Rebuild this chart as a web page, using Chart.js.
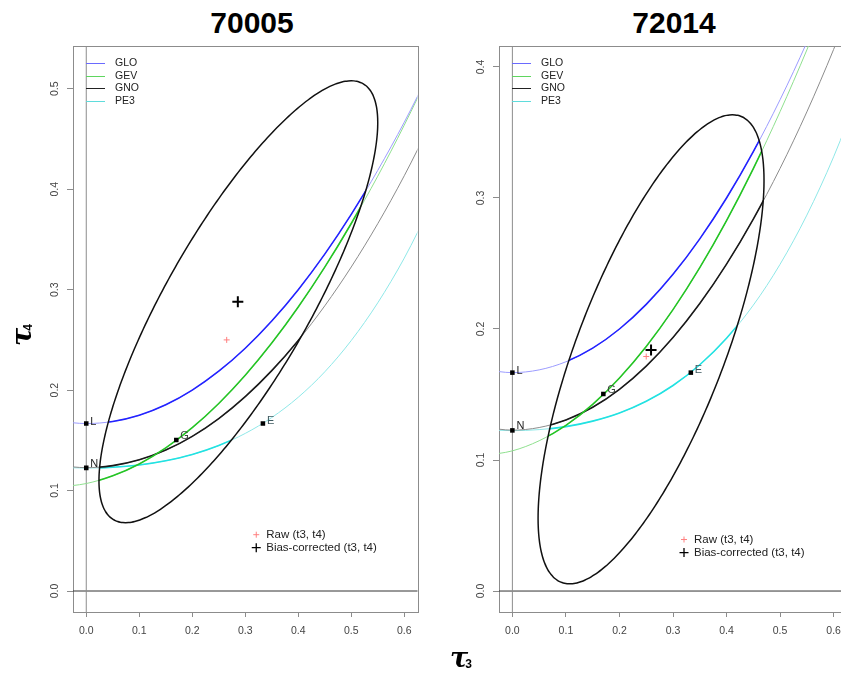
<!DOCTYPE html>
<html>
<head>
<meta charset="utf-8">
<script src="https://cdn.jsdelivr.net/npm/chart.js@4.4.1/dist/chart.umd.min.js"></script>
<style>
  html, body { margin: 0; padding: 0; background: #fff; overflow: hidden; }
  body { width: 841px; height: 678px; position: relative; font-family: "Liberation Sans", Arial, sans-serif; }
  canvas { position: absolute; top: 0; }
  #left { left: 0; }
  #right { left: 425px; }
  .title { position: absolute; top: 5px; width: 200px; text-align: center; font-weight: bold; font-size: 30px; line-height: 36px; color: #000; }
  .tau { position: absolute; width: 42px; height: 30px; text-align: center; font-family: "DejaVu Serif", serif; font-style: italic; font-weight: bold; font-size: 27px; line-height: 30px; white-space: nowrap; color: #000; }
  .tau span { font-family: "Liberation Sans", Arial, sans-serif; font-style: normal; font-weight: bold; font-size: 12px; position: relative; top: 1px; margin-left: -3px; }
</style>
</head>
<body>
<div class="title" style="left:152px">70005</div>
<div class="title" style="left:574px">72014</div>
<canvas id="left" width="425" height="678"></canvas>
<canvas id="right" width="430" height="678"></canvas>
<div class="tau" style="left:440px; top:643px">τ<span>3</span></div>
<div class="tau" style="left:1px; top:320px; transform: rotate(-90deg)">τ<span>4</span></div>
<script>
// theoretical L-moment ratio curves
const tau3Grid = [-0.05, 0, 0.05, 0.1, 0.15, 0.2, 0.25, 0.3, 0.35, 0.4, 0.45, 0.5, 0.55, 0.6, 0.65];
const gloT4 = [0.1688, 0.1667, 0.1688, 0.1750, 0.1854, 0.2000, 0.2188, 0.2417, 0.2688, 0.3000, 0.3354, 0.3750, 0.4188, 0.4667, 0.5188];
const gevT4 = [0.1036, 0.1070, 0.1147, 0.1265, 0.1425, 0.1626, 0.1867, 0.2148, 0.2468, 0.2827, 0.3224, 0.3659, 0.4130, 0.4638, 0.5182];
const gnoT4 = [0.1248, 0.1228, 0.1248, 0.1306, 0.1403, 0.1540, 0.1717, 0.1935, 0.2194, 0.2495, 0.2839, 0.3226, 0.3657, 0.4134, 0.4656];
const pe3T4 = [0.1232, 0.1224, 0.1232, 0.1255, 0.1297, 0.1359, 0.1448, 0.1569, 0.1727, 0.1929, 0.2182, 0.2494, 0.2869, 0.3314, 0.3835];
const curveNames = ['GLO', 'GEV', 'GNO', 'PE3'];

// special distributions
const refNames = ['L', 'N', 'G', 'E'];
const refT3 = [0, 0, 0.1699, 0.3333];
const refT4 = [0.1667, 0.1226, 0.1504, 0.1667];

// one entry per station
const stations = ['70005', '72014'];
const rawT3 = [0.265, 0.250];
const rawT4 = [0.250, 0.179];
const corrT3 = [0.286, 0.259];
const corrT4 = [0.288, 0.184];
// sampling ellipse: centre, half widths, correlation
const ellT3Centre = [0.287, 0.259];
const ellT4Centre = [0.288, 0.1845];
const ellT3Half = [0.263, 0.211];
const ellT4Half = [0.220, 0.179];
const ellCorr = [0.81, 0.72];

const xTicks = [0, 0.1, 0.2, 0.3, 0.4, 0.5, 0.6];
const yTicks = [[0, 0.1, 0.2, 0.3, 0.4, 0.5], [0, 0.1, 0.2, 0.3, 0.4]];
const keyLabels = ['Raw (t3, t4)', 'Bias-corrected (t3, t4)'];

const panels = [
  { canvas: 'left', yMin: -0.0209, yMax: 0.5426, pad: { left: 43, right: 4, top: 46, bottom: 36 }, keyAt: [0.3, 0.07] },
  { canvas: 'right', yMin: -0.016, yMax: 0.416, pad: { left: 44, right: 8, top: 46, bottom: 36 }, keyAt: [0.3, 0.05] }
];

const lightCol = { GLO: '#9c9cff', GEV: '#8fe08f', GNO: '#8c8c8c', PE3: '#8fe8e8' };
const darkCol = { GLO: '#2323ff', GEV: '#25c425', GNO: '#1a1a1a', PE3: '#22e2e2' };
const keyCol = { GLO: '#6a6aff', GEV: '#5fd65f', GNO: '#222222', PE3: '#5fdcdc' };
const letterCol = ['#222', '#222', '#3b463b', '#3e5a60'];
const letterDy = [1, -1, -1, 0];

Chart.defaults.font.family = '"Liberation Sans", Arial, sans-serif';

// darker copy of each curve only inside the ellipse
const ellipseClip = {
  id: 'ellipseClip',
  beforeDatasetDraw(chart, args) {
    if (!chart.data.datasets[args.index].insideEllipse) return;
    const k = chart.data.datasets.findIndex(d => d.isEllipse);
    const pts = chart.getDatasetMeta(k).data;
    const ctx = chart.ctx;
    ctx.save();
    ctx.beginPath();
    pts.forEach((p, j) => (j ? ctx.lineTo(p.x, p.y) : ctx.moveTo(p.x, p.y)));
    ctx.closePath();
    ctx.clip();
  },
  afterDatasetDraw(chart, args) {
    if (chart.data.datasets[args.index].insideEllipse) chart.ctx.restore();
  }
};

const frame = {
  id: 'frame',
  beforeDatasetsDraw(chart) {
    const { ctx, chartArea: a } = chart;
    ctx.save();
    ctx.strokeStyle = '#8c8c8c';
    ctx.lineWidth = 1;
    ctx.strokeRect(Math.round(a.left) + 0.5, Math.round(a.top) + 0.5, Math.round(a.right - a.left), Math.round(a.bottom - a.top));
    ctx.restore();
  }
};

function cross(ctx, x, y, h, col, w) {
  ctx.strokeStyle = col;
  ctx.lineWidth = w;
  ctx.beginPath();
  ctx.moveTo(x - h, y); ctx.lineTo(x + h, y);
  ctx.moveTo(x, y - h); ctx.lineTo(x, y + h);
  ctx.stroke();
}

const annotate = {
  id: 'annotate',
  afterDatasetsDraw(chart, args, opts) {
    const { ctx, chartArea: a, scales: { x, y } } = chart;
    ctx.save();
    // letters beside the special points
    const meta = chart.getDatasetMeta(chart.data.datasets.findIndex(d => d.refPoints));
    ctx.font = '11px "Liberation Sans", Arial, sans-serif';
    ctx.textAlign = 'left';
    ctx.textBaseline = 'alphabetic';
    meta.data.forEach((pt, j) => {
      ctx.fillStyle = letterCol[j];
      ctx.fillText(refNames[j], pt.x + 4, pt.y + letterDy[j]);
    });
    // distribution key, top left
    ctx.font = '10.5px "Liberation Sans", Arial, sans-serif';
    ctx.textBaseline = 'middle';
    curveNames.forEach((name, k) => {
      const yy = Math.round(a.top + 17 + k * 12.7) + 0.5;
      ctx.strokeStyle = keyCol[name];
      ctx.lineWidth = 1;
      ctx.beginPath();
      ctx.moveTo(a.left + 13, yy);
      ctx.lineTo(a.left + 32, yy);
      ctx.stroke();
      ctx.fillStyle = '#222';
      ctx.fillText(name, a.left + 42, yy);
    });
    // point key
    const kx = x.getPixelForValue(opts.keyAt[0]);
    const ky = y.getPixelForValue(opts.keyAt[1]);
    ctx.font = '11.5px "Liberation Sans", Arial, sans-serif';
    cross(ctx, kx + 11, ky + 14, 3, '#ff8080', 1);
    cross(ctx, kx + 11, ky + 27, 4.5, '#000', 1.3);
    ctx.fillStyle = '#222';
    ctx.fillText(keyLabels[0], kx + 21, ky + 14);
    ctx.fillText(keyLabels[1], kx + 21, ky + 27);
    ctx.restore();
  }
};

function buildDatasets(i) {
  const sets = [];
  const curves = [gloT4, gevT4, gnoT4, pe3T4];
  sets.push({ data: [{ x: 0, y: -1 }, { x: 0, y: 1 }], showLine: true, borderColor: '#8c8c8c', borderWidth: 1, pointRadius: 0, order: 9 });
  sets.push({ data: [{ x: -1, y: 0 }, { x: 1, y: 0 }], showLine: true, borderColor: '#333333', borderWidth: 1, pointRadius: 0, order: 9 });
  curveNames.forEach((name, k) => {
    const pts = tau3Grid.map((t, j) => ({ x: t, y: curves[k][j] }));
    sets.push({ data: pts, showLine: true, cubicInterpolationMode: 'monotone', borderColor: lightCol[name], borderWidth: 1, pointRadius: 0, order: 8 });
    sets.push({ data: pts, showLine: true, cubicInterpolationMode: 'monotone', borderColor: darkCol[name], borderWidth: 1.6, pointRadius: 0, order: 7, insideEllipse: true });
  });
  const ell = [];
  const r = ellCorr[i];
  for (let a = 0; a <= 360; a += 2) {
    const t = a * Math.PI / 180;
    ell.push({
      x: ellT3Centre[i] + ellT3Half[i] * Math.cos(t),
      y: ellT4Centre[i] + ellT4Half[i] * (r * Math.cos(t) + Math.sqrt(1 - r * r) * Math.sin(t))
    });
  }
  // small tension keeps Chart.js off its per-pixel fast path, which makes steep parts jagged
  sets.push({ data: ell, showLine: true, tension: 0.2, borderColor: '#111', borderWidth: 1.5, pointRadius: 0, order: 5, isEllipse: true });
  sets.push({ data: refT3.map((t, j) => ({ x: t, y: refT4[j] })), showLine: false, pointStyle: 'rect', pointRadius: 3.2, backgroundColor: '#000', borderColor: '#000', borderWidth: 0, order: 1, refPoints: true });
  sets.push({ data: [{ x: rawT3[i], y: rawT4[i] }], showLine: false, pointStyle: 'cross', pointRadius: 3, borderColor: '#ff7f7f', borderWidth: 1, order: 2 });
  sets.push({ data: [{ x: corrT3[i], y: corrT4[i] }], showLine: false, pointStyle: 'cross', pointRadius: 5.5, borderColor: '#000', borderWidth: 2, order: 2 });
  return sets;
}

panels.forEach((p, i) => {
  const tickFont = { family: '"Liberation Sans", Arial, sans-serif', size: 10.5 };
  new Chart(document.getElementById(p.canvas).getContext('2d'), {
    type: 'scatter',
    data: { datasets: buildDatasets(i) },
    options: {
      responsive: false,
      animation: false,
      events: [],
      layout: { padding: p.pad },
      plugins: {
        legend: { display: false },
        tooltip: { enabled: false },
        annotate: { keyAt: p.keyAt }
      },
      scales: {
        x: {
          type: 'linear', min: -0.025, max: 0.625,
          afterFit: s => { s.height = 30; },
          afterBuildTicks: s => { s.ticks = xTicks.map(v => ({ value: v })); },
          grid: { drawOnChartArea: false, drawTicks: true, tickLength: 5, color: '#8c8c8c' },
          border: { display: false },
          ticks: { padding: 8, color: '#444', font: tickFont, maxRotation: 0, callback: v => v.toFixed(1) }
        },
        y: {
          type: 'linear', min: p.yMin, max: p.yMax,
          afterFit: s => { s.width = 30; },
          afterBuildTicks: s => { s.ticks = yTicks[i].map(v => ({ value: v })); },
          grid: { drawOnChartArea: false, drawTicks: true, tickLength: 6, color: '#8c8c8c' },
          border: { display: false },
          ticks: { padding: 5, minRotation: 90, maxRotation: 90, crossAlign: 'center', color: '#444', font: tickFont, callback: v => v.toFixed(1) }
        }
      }
    },
    plugins: [frame, ellipseClip, annotate]
  });
});
</script>
</body>
</html>
